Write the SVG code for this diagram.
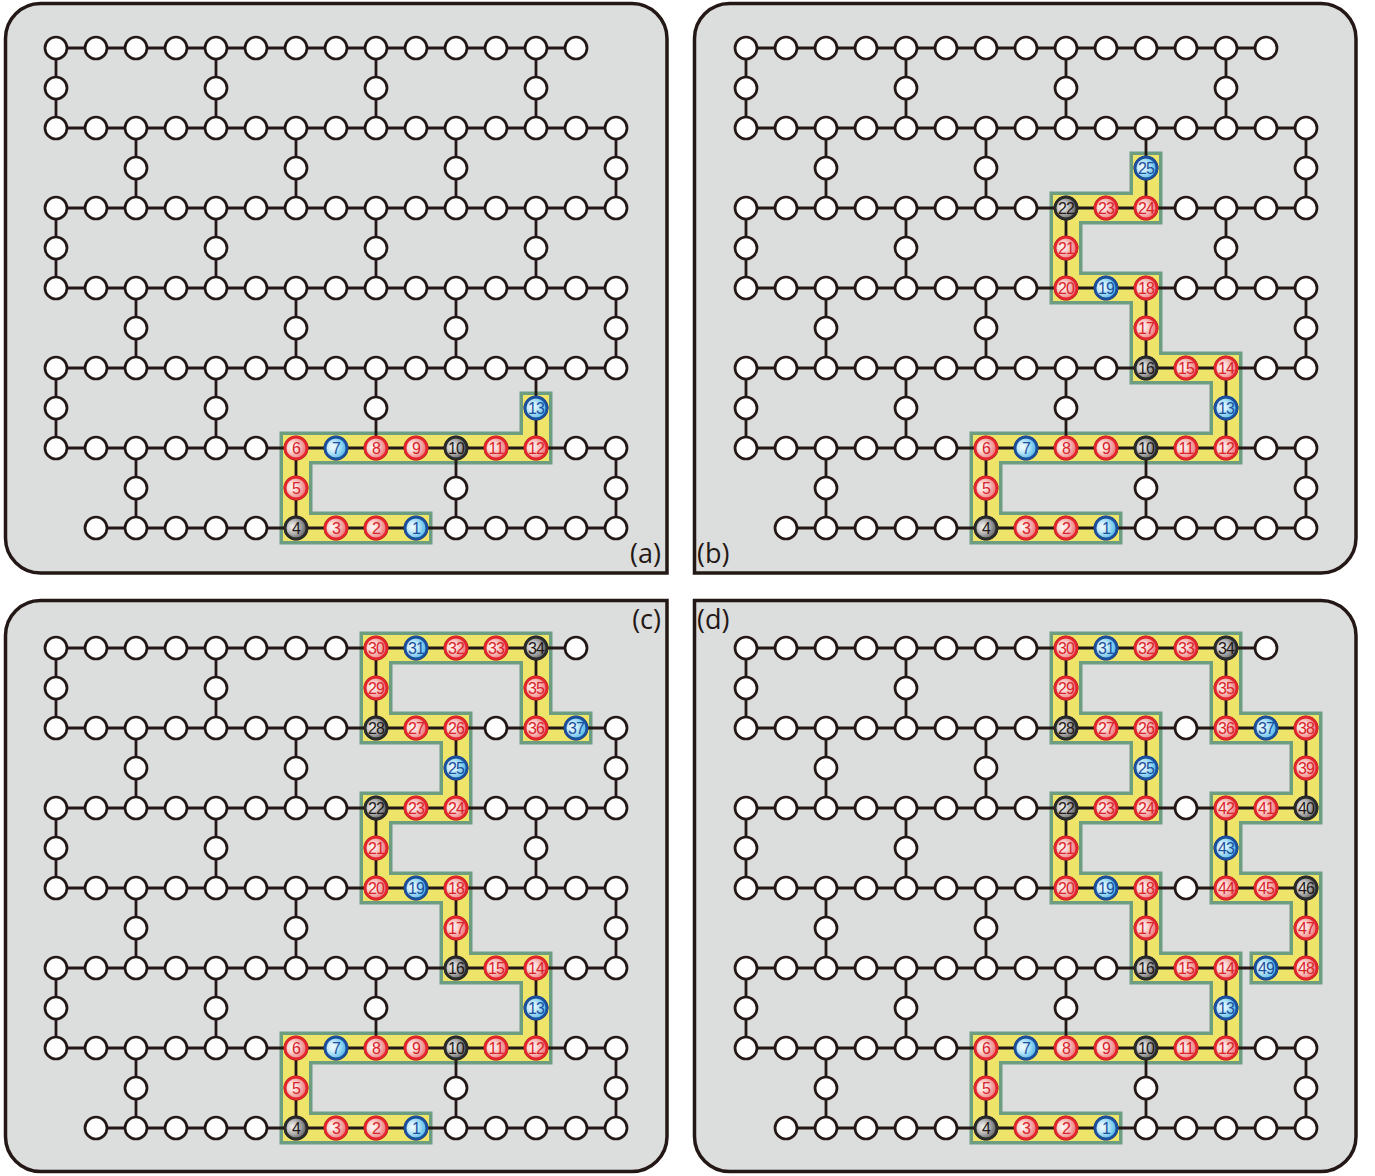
<svg xmlns="http://www.w3.org/2000/svg" xmlns:xlink="http://www.w3.org/1999/xlink" width="1375" height="1176" viewBox="0 0 1375 1176">
<style>
.panel{fill:#dcdddd;stroke:#231815;stroke-width:3.5}
.bo{fill:none;stroke:#6e9e82;stroke-width:33;stroke-linecap:square;stroke-linejoin:miter}
.bi{fill:none;stroke:#eee46a;stroke-width:26;stroke-linecap:square;stroke-linejoin:miter}
.edges path{fill:none;stroke:#231815;stroke-width:2.8}
.wn circle{fill:#fff;stroke:#231815;stroke-width:2.7}
.qr circle{fill:url(#gR);stroke:#e2262b;stroke-width:2.8}
.qb circle{fill:url(#gB);stroke:#1d4f9f;stroke-width:2.8}
.qg circle{fill:url(#gG);stroke:#2a2a2a;stroke-width:2.8}
text.n{font-family:"Liberation Sans",Arial,sans-serif;font-size:16px;text-anchor:middle;letter-spacing:-0.9px}
.qr text{fill:#d9232a}
.qb text{fill:#1d4f9f}
.qg text{fill:#231815}
.lbl{font-family:"Open Sans","Noto Sans",sans-serif;font-size:27px;fill:#231815}
</style>
<defs>
<radialGradient id="gR" cx="0.35" cy="0.45" r="0.8"><stop offset="0" stop-color="#fff6f4"/><stop offset="0.25" stop-color="#fbdcd8"/><stop offset="1" stop-color="#e6474c"/></radialGradient>
<radialGradient id="gB" cx="0.35" cy="0.45" r="0.8"><stop offset="0" stop-color="#f2fbff"/><stop offset="0.25" stop-color="#cdeefb"/><stop offset="1" stop-color="#169fdc"/></radialGradient>
<radialGradient id="gG" cx="0.35" cy="0.45" r="0.8"><stop offset="0" stop-color="#f2f2f2"/><stop offset="0.25" stop-color="#cfcfcf"/><stop offset="1" stop-color="#2e2e2e"/></radialGradient>
<g id="lattice">
<g class="edges"><path d="M56,48H576M56,128H616M56,208H616M56,288H616M56,368H616M56,448H616M96,528H616M56,48V128M216,48V128M376,48V128M536,48V128M56,208V288M216,208V288M376,208V288M536,208V288M56,368V448M216,368V448M376,368V448M536,368V448M136,128V208M296,128V208M456,128V208M616,128V208M136,288V368M296,288V368M456,288V368M616,288V368M136,448V528M296,448V528M456,448V528M616,448V528"/></g>
<g class="wn">
<circle cx="56" cy="48" r="11"/><circle cx="96" cy="48" r="11"/><circle cx="136" cy="48" r="11"/><circle cx="176" cy="48" r="11"/><circle cx="216" cy="48" r="11"/><circle cx="256" cy="48" r="11"/><circle cx="296" cy="48" r="11"/><circle cx="336" cy="48" r="11"/><circle cx="376" cy="48" r="11"/><circle cx="416" cy="48" r="11"/><circle cx="456" cy="48" r="11"/><circle cx="496" cy="48" r="11"/><circle cx="536" cy="48" r="11"/><circle cx="576" cy="48" r="11"/>
<circle cx="56" cy="88" r="11"/><circle cx="216" cy="88" r="11"/><circle cx="376" cy="88" r="11"/><circle cx="536" cy="88" r="11"/>
<circle cx="56" cy="128" r="11"/><circle cx="96" cy="128" r="11"/><circle cx="136" cy="128" r="11"/><circle cx="176" cy="128" r="11"/><circle cx="216" cy="128" r="11"/><circle cx="256" cy="128" r="11"/><circle cx="296" cy="128" r="11"/><circle cx="336" cy="128" r="11"/><circle cx="376" cy="128" r="11"/><circle cx="416" cy="128" r="11"/><circle cx="456" cy="128" r="11"/><circle cx="496" cy="128" r="11"/><circle cx="536" cy="128" r="11"/><circle cx="576" cy="128" r="11"/><circle cx="616" cy="128" r="11"/>
<circle cx="136" cy="168" r="11"/><circle cx="296" cy="168" r="11"/><circle cx="456" cy="168" r="11"/><circle cx="616" cy="168" r="11"/>
<circle cx="56" cy="208" r="11"/><circle cx="96" cy="208" r="11"/><circle cx="136" cy="208" r="11"/><circle cx="176" cy="208" r="11"/><circle cx="216" cy="208" r="11"/><circle cx="256" cy="208" r="11"/><circle cx="296" cy="208" r="11"/><circle cx="336" cy="208" r="11"/><circle cx="376" cy="208" r="11"/><circle cx="416" cy="208" r="11"/><circle cx="456" cy="208" r="11"/><circle cx="496" cy="208" r="11"/><circle cx="536" cy="208" r="11"/><circle cx="576" cy="208" r="11"/><circle cx="616" cy="208" r="11"/>
<circle cx="56" cy="248" r="11"/><circle cx="216" cy="248" r="11"/><circle cx="376" cy="248" r="11"/><circle cx="536" cy="248" r="11"/>
<circle cx="56" cy="288" r="11"/><circle cx="96" cy="288" r="11"/><circle cx="136" cy="288" r="11"/><circle cx="176" cy="288" r="11"/><circle cx="216" cy="288" r="11"/><circle cx="256" cy="288" r="11"/><circle cx="296" cy="288" r="11"/><circle cx="336" cy="288" r="11"/><circle cx="376" cy="288" r="11"/><circle cx="416" cy="288" r="11"/><circle cx="456" cy="288" r="11"/><circle cx="496" cy="288" r="11"/><circle cx="536" cy="288" r="11"/><circle cx="576" cy="288" r="11"/><circle cx="616" cy="288" r="11"/>
<circle cx="136" cy="328" r="11"/><circle cx="296" cy="328" r="11"/><circle cx="456" cy="328" r="11"/><circle cx="616" cy="328" r="11"/>
<circle cx="56" cy="368" r="11"/><circle cx="96" cy="368" r="11"/><circle cx="136" cy="368" r="11"/><circle cx="176" cy="368" r="11"/><circle cx="216" cy="368" r="11"/><circle cx="256" cy="368" r="11"/><circle cx="296" cy="368" r="11"/><circle cx="336" cy="368" r="11"/><circle cx="376" cy="368" r="11"/><circle cx="416" cy="368" r="11"/><circle cx="456" cy="368" r="11"/><circle cx="496" cy="368" r="11"/><circle cx="536" cy="368" r="11"/><circle cx="576" cy="368" r="11"/><circle cx="616" cy="368" r="11"/>
<circle cx="56" cy="408" r="11"/><circle cx="216" cy="408" r="11"/><circle cx="376" cy="408" r="11"/><circle cx="536" cy="408" r="11"/>
<circle cx="56" cy="448" r="11"/><circle cx="96" cy="448" r="11"/><circle cx="136" cy="448" r="11"/><circle cx="176" cy="448" r="11"/><circle cx="216" cy="448" r="11"/><circle cx="256" cy="448" r="11"/><circle cx="296" cy="448" r="11"/><circle cx="336" cy="448" r="11"/><circle cx="376" cy="448" r="11"/><circle cx="416" cy="448" r="11"/><circle cx="456" cy="448" r="11"/><circle cx="496" cy="448" r="11"/><circle cx="536" cy="448" r="11"/><circle cx="576" cy="448" r="11"/><circle cx="616" cy="448" r="11"/>
<circle cx="136" cy="488" r="11"/><circle cx="296" cy="488" r="11"/><circle cx="456" cy="488" r="11"/><circle cx="616" cy="488" r="11"/>
<circle cx="96" cy="528" r="11"/><circle cx="136" cy="528" r="11"/><circle cx="176" cy="528" r="11"/><circle cx="216" cy="528" r="11"/><circle cx="256" cy="528" r="11"/><circle cx="296" cy="528" r="11"/><circle cx="336" cy="528" r="11"/><circle cx="376" cy="528" r="11"/><circle cx="416" cy="528" r="11"/><circle cx="456" cy="528" r="11"/><circle cx="496" cy="528" r="11"/><circle cx="536" cy="528" r="11"/><circle cx="576" cy="528" r="11"/><circle cx="616" cy="528" r="11"/>
</g>
</g>
</defs>

<path id="panel-a" class="panel" d="M5.5,38.5A35,35 0 0 1 40.5,3.5H632A35,35 0 0 1 667,38.5V573H40.5A35,35 0 0 1 5.5,538Z"/>
<path id="panel-b" class="panel" d="M729.5,3.5H1321A35,35 0 0 1 1356,38.5V538A35,35 0 0 1 1321,573H694.5V38.5A35,35 0 0 1 729.5,3.5Z"/>
<path id="panel-c" class="panel" d="M40.5,600.5H667V1136.5A35,35 0 0 1 632,1171.5H40.5A35,35 0 0 1 5.5,1136.5V635.5A35,35 0 0 1 40.5,600.5Z"/>
<path id="panel-d" class="panel" d="M694.5,600.5H1321A35,35 0 0 1 1356,635.5V1136.5A35,35 0 0 1 1321,1171.5H729.5A35,35 0 0 1 694.5,1136.5Z"/>

<g id="a">
<g id="a-band"><path class="bo" d="M416,528H296V448H536V408"/><path class="bi" d="M416,528H296V448H536V408"/></g>
<g id="a-connectors"><use xlink:href="#lattice" href="#lattice"/></g>
<g id="a-nodes">
<g id="a-1" class="qb" transform="translate(416,528)"><circle r="11"/><text class="n" y="5.7">1</text></g>
<g id="a-2" class="qr" transform="translate(376,528)"><circle r="11"/><text class="n" y="5.7">2</text></g>
<g id="a-3" class="qr" transform="translate(336,528)"><circle r="11"/><text class="n" y="5.7">3</text></g>
<g id="a-4" class="qg" transform="translate(296,528)"><circle r="11"/><text class="n" y="5.7">4</text></g>
<g id="a-5" class="qr" transform="translate(296,488)"><circle r="11"/><text class="n" y="5.7">5</text></g>
<g id="a-6" class="qr" transform="translate(296,448)"><circle r="11"/><text class="n" y="5.7">6</text></g>
<g id="a-7" class="qb" transform="translate(336,448)"><circle r="11"/><text class="n" y="5.7">7</text></g>
<g id="a-8" class="qr" transform="translate(376,448)"><circle r="11"/><text class="n" y="5.7">8</text></g>
<g id="a-9" class="qr" transform="translate(416,448)"><circle r="11"/><text class="n" y="5.7">9</text></g>
<g id="a-10" class="qg" transform="translate(456,448)"><circle r="11"/><text class="n" y="5.7">10</text></g>
<g id="a-11" class="qr" transform="translate(496,448)"><circle r="11"/><text class="n" y="5.7">11</text></g>
<g id="a-12" class="qr" transform="translate(536,448)"><circle r="11"/><text class="n" y="5.7">12</text></g>
<g id="a-13" class="qb" transform="translate(536,408)"><circle r="11"/><text class="n" y="5.7">13</text></g>
</g>
<text class="lbl" x="661" y="563" text-anchor="end">(a)</text>
</g>

<g id="b">
<g transform="translate(690,0)">
<g id="b-band"><path class="bo" d="M416,528H296V448H536V368H456V288H376V208H456V168"/><path class="bi" d="M416,528H296V448H536V368H456V288H376V208H456V168"/></g>
<g id="b-connectors"><use xlink:href="#lattice" href="#lattice"/></g>
<g id="b-nodes">
<g id="b-1" class="qb" transform="translate(416,528)"><circle r="11"/><text class="n" y="5.7">1</text></g>
<g id="b-2" class="qr" transform="translate(376,528)"><circle r="11"/><text class="n" y="5.7">2</text></g>
<g id="b-3" class="qr" transform="translate(336,528)"><circle r="11"/><text class="n" y="5.7">3</text></g>
<g id="b-4" class="qg" transform="translate(296,528)"><circle r="11"/><text class="n" y="5.7">4</text></g>
<g id="b-5" class="qr" transform="translate(296,488)"><circle r="11"/><text class="n" y="5.7">5</text></g>
<g id="b-6" class="qr" transform="translate(296,448)"><circle r="11"/><text class="n" y="5.7">6</text></g>
<g id="b-7" class="qb" transform="translate(336,448)"><circle r="11"/><text class="n" y="5.7">7</text></g>
<g id="b-8" class="qr" transform="translate(376,448)"><circle r="11"/><text class="n" y="5.7">8</text></g>
<g id="b-9" class="qr" transform="translate(416,448)"><circle r="11"/><text class="n" y="5.7">9</text></g>
<g id="b-10" class="qg" transform="translate(456,448)"><circle r="11"/><text class="n" y="5.7">10</text></g>
<g id="b-11" class="qr" transform="translate(496,448)"><circle r="11"/><text class="n" y="5.7">11</text></g>
<g id="b-12" class="qr" transform="translate(536,448)"><circle r="11"/><text class="n" y="5.7">12</text></g>
<g id="b-13" class="qb" transform="translate(536,408)"><circle r="11"/><text class="n" y="5.7">13</text></g>
<g id="b-14" class="qr" transform="translate(536,368)"><circle r="11"/><text class="n" y="5.7">14</text></g>
<g id="b-15" class="qr" transform="translate(496,368)"><circle r="11"/><text class="n" y="5.7">15</text></g>
<g id="b-16" class="qg" transform="translate(456,368)"><circle r="11"/><text class="n" y="5.7">16</text></g>
<g id="b-17" class="qr" transform="translate(456,328)"><circle r="11"/><text class="n" y="5.7">17</text></g>
<g id="b-18" class="qr" transform="translate(456,288)"><circle r="11"/><text class="n" y="5.7">18</text></g>
<g id="b-19" class="qb" transform="translate(416,288)"><circle r="11"/><text class="n" y="5.7">19</text></g>
<g id="b-20" class="qr" transform="translate(376,288)"><circle r="11"/><text class="n" y="5.7">20</text></g>
<g id="b-21" class="qr" transform="translate(376,248)"><circle r="11"/><text class="n" y="5.7">21</text></g>
<g id="b-22" class="qg" transform="translate(376,208)"><circle r="11"/><text class="n" y="5.7">22</text></g>
<g id="b-23" class="qr" transform="translate(416,208)"><circle r="11"/><text class="n" y="5.7">23</text></g>
<g id="b-24" class="qr" transform="translate(456,208)"><circle r="11"/><text class="n" y="5.7">24</text></g>
<g id="b-25" class="qb" transform="translate(456,168)"><circle r="11"/><text class="n" y="5.7">25</text></g>
</g>
</g>
<text class="lbl" x="697" y="563">(b)</text>
</g>

<g id="c">
<g transform="translate(0,600)">
<g id="c-band"><path class="bo" d="M416,528H296V448H536V368H456V288H376V208H456V128H376V48H536V128H576"/><path class="bi" d="M416,528H296V448H536V368H456V288H376V208H456V128H376V48H536V128H576"/></g>
<g id="c-connectors"><use xlink:href="#lattice" href="#lattice"/></g>
<g id="c-nodes">
<g id="c-1" class="qb" transform="translate(416,528)"><circle r="11"/><text class="n" y="5.7">1</text></g>
<g id="c-2" class="qr" transform="translate(376,528)"><circle r="11"/><text class="n" y="5.7">2</text></g>
<g id="c-3" class="qr" transform="translate(336,528)"><circle r="11"/><text class="n" y="5.7">3</text></g>
<g id="c-4" class="qg" transform="translate(296,528)"><circle r="11"/><text class="n" y="5.7">4</text></g>
<g id="c-5" class="qr" transform="translate(296,488)"><circle r="11"/><text class="n" y="5.7">5</text></g>
<g id="c-6" class="qr" transform="translate(296,448)"><circle r="11"/><text class="n" y="5.7">6</text></g>
<g id="c-7" class="qb" transform="translate(336,448)"><circle r="11"/><text class="n" y="5.7">7</text></g>
<g id="c-8" class="qr" transform="translate(376,448)"><circle r="11"/><text class="n" y="5.7">8</text></g>
<g id="c-9" class="qr" transform="translate(416,448)"><circle r="11"/><text class="n" y="5.7">9</text></g>
<g id="c-10" class="qg" transform="translate(456,448)"><circle r="11"/><text class="n" y="5.7">10</text></g>
<g id="c-11" class="qr" transform="translate(496,448)"><circle r="11"/><text class="n" y="5.7">11</text></g>
<g id="c-12" class="qr" transform="translate(536,448)"><circle r="11"/><text class="n" y="5.7">12</text></g>
<g id="c-13" class="qb" transform="translate(536,408)"><circle r="11"/><text class="n" y="5.7">13</text></g>
<g id="c-14" class="qr" transform="translate(536,368)"><circle r="11"/><text class="n" y="5.7">14</text></g>
<g id="c-15" class="qr" transform="translate(496,368)"><circle r="11"/><text class="n" y="5.7">15</text></g>
<g id="c-16" class="qg" transform="translate(456,368)"><circle r="11"/><text class="n" y="5.7">16</text></g>
<g id="c-17" class="qr" transform="translate(456,328)"><circle r="11"/><text class="n" y="5.7">17</text></g>
<g id="c-18" class="qr" transform="translate(456,288)"><circle r="11"/><text class="n" y="5.7">18</text></g>
<g id="c-19" class="qb" transform="translate(416,288)"><circle r="11"/><text class="n" y="5.7">19</text></g>
<g id="c-20" class="qr" transform="translate(376,288)"><circle r="11"/><text class="n" y="5.7">20</text></g>
<g id="c-21" class="qr" transform="translate(376,248)"><circle r="11"/><text class="n" y="5.7">21</text></g>
<g id="c-22" class="qg" transform="translate(376,208)"><circle r="11"/><text class="n" y="5.7">22</text></g>
<g id="c-23" class="qr" transform="translate(416,208)"><circle r="11"/><text class="n" y="5.7">23</text></g>
<g id="c-24" class="qr" transform="translate(456,208)"><circle r="11"/><text class="n" y="5.7">24</text></g>
<g id="c-25" class="qb" transform="translate(456,168)"><circle r="11"/><text class="n" y="5.7">25</text></g>
<g id="c-26" class="qr" transform="translate(456,128)"><circle r="11"/><text class="n" y="5.7">26</text></g>
<g id="c-27" class="qr" transform="translate(416,128)"><circle r="11"/><text class="n" y="5.7">27</text></g>
<g id="c-28" class="qg" transform="translate(376,128)"><circle r="11"/><text class="n" y="5.7">28</text></g>
<g id="c-29" class="qr" transform="translate(376,88)"><circle r="11"/><text class="n" y="5.7">29</text></g>
<g id="c-30" class="qr" transform="translate(376,48)"><circle r="11"/><text class="n" y="5.7">30</text></g>
<g id="c-31" class="qb" transform="translate(416,48)"><circle r="11"/><text class="n" y="5.7">31</text></g>
<g id="c-32" class="qr" transform="translate(456,48)"><circle r="11"/><text class="n" y="5.7">32</text></g>
<g id="c-33" class="qr" transform="translate(496,48)"><circle r="11"/><text class="n" y="5.7">33</text></g>
<g id="c-34" class="qg" transform="translate(536,48)"><circle r="11"/><text class="n" y="5.7">34</text></g>
<g id="c-35" class="qr" transform="translate(536,88)"><circle r="11"/><text class="n" y="5.7">35</text></g>
<g id="c-36" class="qr" transform="translate(536,128)"><circle r="11"/><text class="n" y="5.7">36</text></g>
<g id="c-37" class="qb" transform="translate(576,128)"><circle r="11"/><text class="n" y="5.7">37</text></g>
</g>
</g>
<text class="lbl" x="661" y="629" text-anchor="end">(c)</text>
</g>

<g id="d">
<g transform="translate(690,600)">
<g id="d-band"><path class="bo" d="M416,528H296V448H536V368H456V288H376V208H456V128H376V48H536V128H616V208H536V288H616V368H576"/><path class="bi" d="M416,528H296V448H536V368H456V288H376V208H456V128H376V48H536V128H616V208H536V288H616V368H576"/></g>
<g id="d-connectors"><use xlink:href="#lattice" href="#lattice"/></g>
<g id="d-nodes">
<g id="d-1" class="qb" transform="translate(416,528)"><circle r="11"/><text class="n" y="5.7">1</text></g>
<g id="d-2" class="qr" transform="translate(376,528)"><circle r="11"/><text class="n" y="5.7">2</text></g>
<g id="d-3" class="qr" transform="translate(336,528)"><circle r="11"/><text class="n" y="5.7">3</text></g>
<g id="d-4" class="qg" transform="translate(296,528)"><circle r="11"/><text class="n" y="5.7">4</text></g>
<g id="d-5" class="qr" transform="translate(296,488)"><circle r="11"/><text class="n" y="5.7">5</text></g>
<g id="d-6" class="qr" transform="translate(296,448)"><circle r="11"/><text class="n" y="5.7">6</text></g>
<g id="d-7" class="qb" transform="translate(336,448)"><circle r="11"/><text class="n" y="5.7">7</text></g>
<g id="d-8" class="qr" transform="translate(376,448)"><circle r="11"/><text class="n" y="5.7">8</text></g>
<g id="d-9" class="qr" transform="translate(416,448)"><circle r="11"/><text class="n" y="5.7">9</text></g>
<g id="d-10" class="qg" transform="translate(456,448)"><circle r="11"/><text class="n" y="5.7">10</text></g>
<g id="d-11" class="qr" transform="translate(496,448)"><circle r="11"/><text class="n" y="5.7">11</text></g>
<g id="d-12" class="qr" transform="translate(536,448)"><circle r="11"/><text class="n" y="5.7">12</text></g>
<g id="d-13" class="qb" transform="translate(536,408)"><circle r="11"/><text class="n" y="5.7">13</text></g>
<g id="d-14" class="qr" transform="translate(536,368)"><circle r="11"/><text class="n" y="5.7">14</text></g>
<g id="d-15" class="qr" transform="translate(496,368)"><circle r="11"/><text class="n" y="5.7">15</text></g>
<g id="d-16" class="qg" transform="translate(456,368)"><circle r="11"/><text class="n" y="5.7">16</text></g>
<g id="d-17" class="qr" transform="translate(456,328)"><circle r="11"/><text class="n" y="5.7">17</text></g>
<g id="d-18" class="qr" transform="translate(456,288)"><circle r="11"/><text class="n" y="5.7">18</text></g>
<g id="d-19" class="qb" transform="translate(416,288)"><circle r="11"/><text class="n" y="5.7">19</text></g>
<g id="d-20" class="qr" transform="translate(376,288)"><circle r="11"/><text class="n" y="5.7">20</text></g>
<g id="d-21" class="qr" transform="translate(376,248)"><circle r="11"/><text class="n" y="5.7">21</text></g>
<g id="d-22" class="qg" transform="translate(376,208)"><circle r="11"/><text class="n" y="5.7">22</text></g>
<g id="d-23" class="qr" transform="translate(416,208)"><circle r="11"/><text class="n" y="5.7">23</text></g>
<g id="d-24" class="qr" transform="translate(456,208)"><circle r="11"/><text class="n" y="5.7">24</text></g>
<g id="d-25" class="qb" transform="translate(456,168)"><circle r="11"/><text class="n" y="5.7">25</text></g>
<g id="d-26" class="qr" transform="translate(456,128)"><circle r="11"/><text class="n" y="5.7">26</text></g>
<g id="d-27" class="qr" transform="translate(416,128)"><circle r="11"/><text class="n" y="5.7">27</text></g>
<g id="d-28" class="qg" transform="translate(376,128)"><circle r="11"/><text class="n" y="5.7">28</text></g>
<g id="d-29" class="qr" transform="translate(376,88)"><circle r="11"/><text class="n" y="5.7">29</text></g>
<g id="d-30" class="qr" transform="translate(376,48)"><circle r="11"/><text class="n" y="5.7">30</text></g>
<g id="d-31" class="qb" transform="translate(416,48)"><circle r="11"/><text class="n" y="5.7">31</text></g>
<g id="d-32" class="qr" transform="translate(456,48)"><circle r="11"/><text class="n" y="5.7">32</text></g>
<g id="d-33" class="qr" transform="translate(496,48)"><circle r="11"/><text class="n" y="5.7">33</text></g>
<g id="d-34" class="qg" transform="translate(536,48)"><circle r="11"/><text class="n" y="5.7">34</text></g>
<g id="d-35" class="qr" transform="translate(536,88)"><circle r="11"/><text class="n" y="5.7">35</text></g>
<g id="d-36" class="qr" transform="translate(536,128)"><circle r="11"/><text class="n" y="5.7">36</text></g>
<g id="d-37" class="qb" transform="translate(576,128)"><circle r="11"/><text class="n" y="5.7">37</text></g>
<g id="d-38" class="qr" transform="translate(616,128)"><circle r="11"/><text class="n" y="5.7">38</text></g>
<g id="d-39" class="qr" transform="translate(616,168)"><circle r="11"/><text class="n" y="5.7">39</text></g>
<g id="d-40" class="qg" transform="translate(616,208)"><circle r="11"/><text class="n" y="5.7">40</text></g>
<g id="d-41" class="qr" transform="translate(576,208)"><circle r="11"/><text class="n" y="5.7">41</text></g>
<g id="d-42" class="qr" transform="translate(536,208)"><circle r="11"/><text class="n" y="5.7">42</text></g>
<g id="d-43" class="qb" transform="translate(536,248)"><circle r="11"/><text class="n" y="5.7">43</text></g>
<g id="d-44" class="qr" transform="translate(536,288)"><circle r="11"/><text class="n" y="5.7">44</text></g>
<g id="d-45" class="qr" transform="translate(576,288)"><circle r="11"/><text class="n" y="5.7">45</text></g>
<g id="d-46" class="qg" transform="translate(616,288)"><circle r="11"/><text class="n" y="5.7">46</text></g>
<g id="d-47" class="qr" transform="translate(616,328)"><circle r="11"/><text class="n" y="5.7">47</text></g>
<g id="d-48" class="qr" transform="translate(616,368)"><circle r="11"/><text class="n" y="5.7">48</text></g>
<g id="d-49" class="qb" transform="translate(576,368)"><circle r="11"/><text class="n" y="5.7">49</text></g>
</g>
</g>
<text class="lbl" x="697" y="629">(d)</text>
</g>
</svg>
